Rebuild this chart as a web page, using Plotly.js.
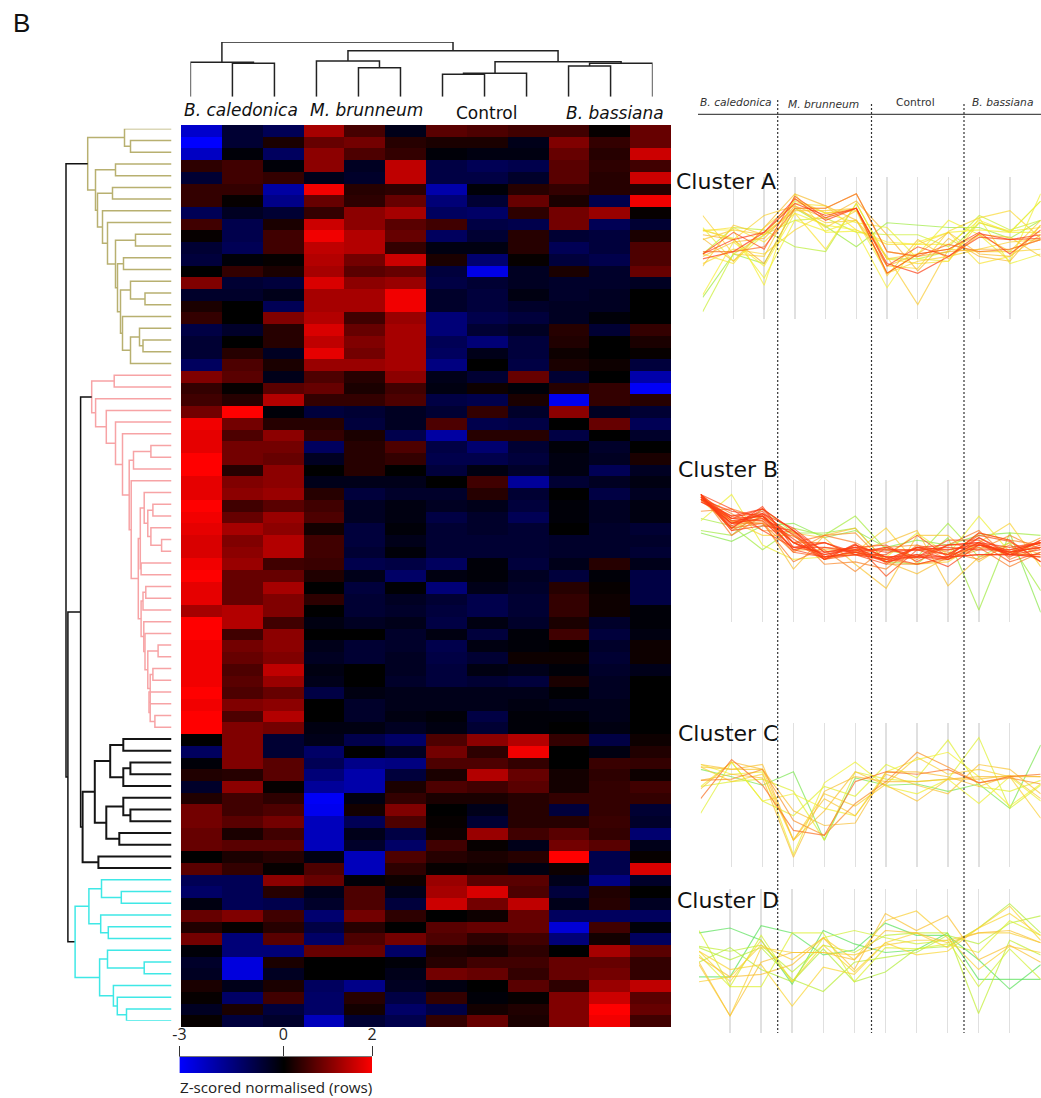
<!DOCTYPE html>
<html><head><meta charset="utf-8">
<script src="https://cdn.plot.ly/plotly-3.0.1.min.js"></script>
<style>html,body{margin:0;padding:0;background:#fff}#c{width:1041px;height:1098px}</style>
</head><body><div id="c"></div>
<script>
const groups=['B. caledonica','M. brunneum','Control','B. bassiana'];
const clusterNames=['Cluster A','Cluster B','Cluster C','Cluster D'];
const rowsA=[
[-2.4,-0.6,-1.0,1.3,0.55,-0.3,0.7,0.6,0.5,0.5,0.05,0.8],
[-3,-0.6,0.2,0.8,0.9,0.3,0.2,0.2,-0.3,1.0,0.4,0.8],
[-2.3,-0.1,-1.1,1.1,0.6,0.4,-0.1,-0.2,-0.2,0.8,0.3,1.6],
[0.35,0.5,-0.1,1.1,-0.4,1.5,-0.8,-1.0,-0.9,0.7,0.35,0.5],
[-0.6,0.5,0.4,-0.3,-0.5,1.5,-0.8,-0.8,-0.5,0.7,0.3,1.6],
[0.4,0.4,-1.9,1.9,0.3,0.35,-2.0,-0.1,0.3,0.4,0.3,0.3],
[0.4,0.05,-1.6,0.8,0.35,0.8,-1.4,-0.6,0.8,0.2,-0.9,1.9],
[-1.0,-0.4,-0.6,0.4,1.1,1.3,-1.1,-1.2,0.35,0.9,1.2,0.05],
[0.5,-0.9,0.2,1.6,1.1,0.7,0.5,-0.8,-0.9,0.9,-1,-0.6],
[0.05,-0.9,0.5,1.9,1.4,0.8,-1.1,-0.6,0.3,-0.6,-0.7,0.2],
[-0.6,-1.0,0.5,1.5,1.4,0.4,-0.2,-0.2,0.3,-1.0,-0.7,0.6],
[-0.7,-0.1,0.05,1.4,0.9,1.6,0.2,-1.3,0.05,-0.7,-0.9,0.6],
[0.0,0.4,0.2,1.3,0.7,0.8,-0.7,-2.7,-0.4,0.2,-0.5,0.8],
[1.0,-0.6,-0.7,1.7,1.1,1.2,-0.8,-0.6,-0.4,-0.5,-0.5,-0.4],
[-0.5,-0.5,-0.3,1.3,1.3,1.9,-0.5,-0.7,-0.2,-0.5,-0.4,0.0],
[0.2,0.0,-1.0,1.3,1.3,1.9,-0.5,-0.7,-0.5,-0.4,-0.4,0.0],
[0.4,0.0,1.0,1.4,0.5,1.2,-1.4,-0.9,-0.7,-0.4,-0.1,0.0],
[-0.8,-0.5,0.3,1.7,0.8,1.3,-1.4,-0.6,-0.4,0.3,-0.6,0.4],
[-0.6,0.0,0.3,1.5,1.0,1.3,-1.0,-1.4,-0.7,0.25,0.0,0.2],
[-0.6,0.3,-0.4,1.8,0.9,1.3,-1.1,-0.3,-0.7,0.1,0.0,0.05],
[-1.1,0.6,0.2,1.2,1.2,1.3,-1.5,0.0,-0.8,0.2,0.1,-0.7]];
const rowsB=[
[1.0,0.7,-0.3,0.6,0.3,1.1,-0.3,-0.6,0.8,-0.6,0.0,-2.0],
[0.4,0.05,0.7,0.8,0.2,0.5,-0.2,0.1,-0.1,0.3,0.4,-2.9],
[0.5,0.3,1.4,0.4,0.4,0.6,-0.8,-0.9,0.2,-2.8,0.4,0.3],
[0.9,2.0,-0.1,-0.7,-0.6,-0.4,-0.6,0.4,-0.5,1.1,-0.4,-0.6],
[1.9,0.9,0.3,0.3,-0.7,-0.4,0.6,-0.9,-0.8,0.0,0.8,-1.0],
[1.8,0.6,1.1,0.4,0.2,-0.9,-1.9,0.3,0.3,-0.8,0.0,-0.5],
[1.8,0.9,0.9,-1.1,0.3,0.6,-0.8,-1.3,-0.6,-0.1,-0.5,0.0],
[2.0,0.9,0.8,-0.4,0.3,0.4,-0.9,-0.9,-0.7,-0.2,-0.4,0.2],
[2.0,0.3,1.1,0.0,0.3,0.0,-0.7,-0.2,-0.5,-0.2,-1.0,-0.4],
[1.8,1.0,1.1,-0.3,-0.3,-0.3,0.0,0.5,-1.8,-0.6,-0.4,-0.2],
[1.8,1.1,1.2,0.3,-0.7,-0.5,-0.5,0.3,-0.6,0.0,-0.8,-0.4],
[2.0,0.5,0.7,0.5,-0.4,-0.2,-0.4,-0.3,-0.7,-0.1,-0.4,-0.2],
[1.9,0.8,1.2,0.6,-0.4,-0.2,-0.8,-0.5,-1.0,-0.1,-0.4,-0.2],
[1.8,1.3,1.1,0.15,-0.7,-0.1,-0.6,-0.5,-0.6,0.0,-0.5,-0.6],
[1.7,1.0,1.4,0.5,-0.7,-0.3,-0.6,-0.6,-0.6,-0.5,-0.5,-0.5],
[1.7,1.1,1.4,0.5,-0.6,-0.1,-0.6,-0.6,-0.6,-0.5,-0.5,-0.6],
[1.9,1.2,0.5,0.45,-0.9,-0.8,-1.1,-0.1,-0.7,-0.3,0.3,-0.3],
[2.0,0.8,0.8,0.25,-0.3,-1.2,-0.2,-0.1,-0.4,-0.7,-0.1,-0.8],
[1.8,0.8,1.3,0.0,-0.7,-0.05,-1.4,-0.3,-0.5,0.3,0.05,-0.8],
[1.8,0.8,1.0,0.35,-0.6,-0.4,-0.6,-0.9,-0.6,0.4,0.1,-0.8],
[1.3,1.4,1.0,0.0,-0.6,-0.5,-0.7,-0.9,-0.6,0.4,0.1,-0.1],
[2.0,1.4,0.5,-0.2,-0.4,-0.3,-0.8,-0.2,-0.5,0.2,-0.5,-0.1],
[2.0,0.5,1.1,0.0,0.0,-0.5,-0.2,-0.7,-0.1,0.5,-0.7,-0.2],
[1.9,0.9,1.1,-0.3,-0.6,-0.5,-0.9,-0.2,-0.1,0.0,-0.5,0.1],
[1.9,0.8,1.0,-0.4,-0.6,-0.4,-0.8,-0.6,0.1,0.1,-0.6,0.1],
[1.9,0.6,1.5,-0.2,0.0,-0.4,-0.7,-0.2,-0.3,-0.1,-0.5,-0.3],
[1.9,0.7,1.2,-0.3,0.0,-0.5,-0.7,-0.6,-0.7,0.2,-0.4,0.0],
[2.0,0.6,0.8,-0.8,-0.2,-0.3,-0.3,-0.3,-0.3,-0.05,-0.4,0.0],
[1.9,1.0,1.1,0.0,-0.5,-0.3,-0.3,-0.3,-0.2,-0.3,-0.3,0.0],
[2.0,0.6,1.4,0.0,-0.5,-0.2,-0.1,-0.8,-0.1,-0.1,-0.3,0.0],
[2.0,1.0,0.9,-0.2,-0.2,-0.4,-0.2,-0.6,-0.1,0.0,-0.2,0.0]];
const rowsC=[
[0.0,1.0,-0.6,-0.3,-0.9,-1.2,0.6,1.1,1.4,0.4,-0.8,0.1],
[-1.1,1.0,-0.6,-1.2,0.0,-0.4,0.9,0.35,1.9,0.0,-0.2,0.25],
[-0.1,1.0,0.7,-1.0,-1.6,-1.5,0.6,0.6,0.4,0.0,0.45,0.4],
[0.25,0.3,0.7,-1.4,-2.0,-0.7,0.2,1.4,0.8,0.15,0.35,0.1],
[-0.5,1.1,0.05,-1.8,-2.0,0.2,0.6,0.5,0.7,0.15,0.4,0.5],
[0.25,0.5,0.35,-2.9,-0.2,0.4,0.2,0.2,0.3,0.4,0.4,0.4],
[0.9,0.5,0.6,-2.8,0.15,1.0,0.0,-0.3,0.3,-0.7,0.4,-0.6],
[0.9,0.7,0.9,-2.2,-1.0,0.6,0.05,-0.6,0.3,0.3,0.45,-0.5],
[0.8,0.2,0.5,-2.2,-0.3,-0.8,0.1,1.2,0.5,0.7,0.4,-1.3],
[0.8,0.7,0.7,-2.2,-0.5,-1.2,0.5,0.05,-0.3,0.9,0.7,-0.3],
[0.0,0.2,0.3,-0.2,-2.2,0.6,0.3,0.2,0.3,2.0,-0.9,0.05],
[0.7,0.4,0.05,0.6,-2.2,0.35,0.05,0.1,-0.2,0.1,-0.9,1.7]];
const rowsD=[
[-1.0,-1.0,1.1,0.8,-0.1,0.1,1.2,0.7,0.7,-0.3,-1.5,-0.5],
[-1.2,-1.0,0.3,-0.3,0.6,-0.3,1.3,1.7,0.6,-0.7,0.25,0.0],
[-0.2,-1.0,-0.9,-0.5,0.6,-0.7,1.6,0.9,1.5,-0.3,0.3,-0.4],
[0.8,1.0,0.5,-1.3,0.9,0.35,0.0,0.1,0.8,-1.1,-1.1,-1.1],
[0.25,0.05,0.3,-0.8,0.3,0.0,0.7,0.8,0.8,-2.5,0.5,-0.1],
[0.9,-1.4,0.7,-1.2,0.6,0.9,0.6,0.35,0.5,-1.4,0.15,-1.1],
[-0.1,-1.4,-1.4,0.8,0.8,-1.2,0.2,0.15,0.35,0.0,1.3,0.7],
[-0.5,-2.6,0.2,0.0,0.0,-0.1,0.3,0.5,0.5,0.8,0.8,0.4],
[-0.4,-2.6,-0.4,0.0,0.0,-0.3,0.9,0.8,0.4,0.8,0.9,0.4],
[0.2,-0.3,0.2,-1.1,-1.6,-0.4,-0.2,0.0,0.7,0.35,1.2,1.5],
[0.05,-1.2,0.5,-1.2,0.3,-0.8,0.4,-0.1,0.05,1.0,1.6,0.7],
[-0.4,0.2,-0.7,-1.2,0.15,-1.2,-0.8,0.15,0.25,1.0,2.0,0.8],
[0.05,-0.7,-0.5,-2.2,-0.6,-0.9,0.4,0.8,0.2,1.0,1.9,0.5]];

// Dendrograms: [merge height, child, child]; a number is a leaf index.
const treeTop=[54.7,[34.4,0,[33.4,1,2]],[46,[35.7,3,[29,4,5]],[35,[23.4,[22.4,6,7],8],[33.4,[30.7,9,10],11]]]];
const a1=[41,[32,17,[28.5,18,19]],20];
const a2=[51,[41,13,[26.5,14,15]],[49,16,a1]];
const a3=[56,[36,9,10],[54,[48,11,12],a2]];
const a4=[69,7,[64,8,a3]];
const treeA=[83.8,[47,0,[41,1,2]],[76,[56,3,4],[74,[59,5,6],a4]]];
const b1=[31.2,[27.3,31,[23.7,[18.6,32,33],[20.6,34,[9.9,35,36]]]],[30.4,37,38]];
const b2=[23.7,[13.4,44,45],[21.3,[18.6,46,47],[22.5,48,[21.3,49,[16.6,50,51]]]]];
const b3=[30.4,[28.5,[25.7,39,40],41],[27.7,42,[26.5,43,b2]]];
const b4=[42.3,[38,[20.6,27,28],29],[40.3,30,[33.2,b1,b3]]];
const treeB=[79.8,[57.3,21,22],[75.9,23,[65.2,24,[56,25,[49,26,b4]]]]];
const treeC=[88.9,[76.7,[61.3,[48.2,52,53],[48.2,[41.1,54,55],56]],[65.2,[48.2,57,[41.1,58,59]],[52.2,60,61]]],[73.1,62,63]];
const treeD=[96.4,[82.6,[70,64,[50.2,65,66]],[70.8,67,[63.2,68,69]]],[71.9,[64,70,[27.3,71,72]],[58.1,73,[54.2,74,[45,75,76]]]]];
const clusterColors=['#b8b070','#f7a3a5','#151515','#3fe8e6'];
const treeLeft=[105.5,{tree:treeA,color:clusterColors[0]},[103.6,[90.9,{tree:treeB,color:clusterColors[1]},{tree:treeC,color:clusterColors[2]}],{tree:treeD,color:clusterColors[3]}]];

const W=1041,H=1098;
const clusters=[rowsA,rowsB,rowsC,rowsD];
const Z=[].concat(...clusters);
const fx=(a,b)=>[a/W,b/W];
const fy=(t,b)=>[1-b/H,1-t/H];
const scale=[[0,'#0000ff'],[0.6,'#000000'],[1,'#ff0000']];

function walk(node,color,segs){
  if(typeof node==='number')return{p:node,h:0};
  if(!Array.isArray(node))return walk(node.tree,node.color,segs);
  const [h,a,b]=node;
  const A=walk(a,color,segs),B=walk(b,color,segs);
  const s=segs[color]=segs[color]||[];
  s.push([A.h,A.p],[h,A.p],[h,B.p],[B.h,B.p],null);
  return{p:(A.p+B.p)/2,h};
}
const traces=[];
traces.push({type:'heatmap',z:Z,zmin:-3,zmax:2,colorscale:scale,showscale:false,xaxis:'x',yaxis:'y',hoverinfo:'skip'});

const segT={},segL={};
walk(treeTop,'#222222',segT);
walk(treeLeft,'#111111',segL);
for(const c in segT){const s=segT[c];traces.push({type:'scatter',mode:'lines',xaxis:'x2',yaxis:'y2',cliponaxis:false,
  x:s.map(d=>d?d[1]:null),y:s.map(d=>d?d[0]:null),line:{color:c,width:1.5},hoverinfo:'skip'});}
for(const c in segL){const s=segL[c];traces.push({type:'scatter',mode:'lines',xaxis:'x3',yaxis:'y3',cliponaxis:false,
  x:s.map(d=>d?d[0]:null),y:s.map(d=>d?d[1]:null),line:{color:c,width:c==='#151515'?2:1.5},hoverinfo:'skip'});}

// Profiles: same rows, coloured by how well each follows its cluster centroid
function mix(a,b,t){return a.map((v,i)=>Math.round(v+(b[i]-v)*t));}
const stops=[[0.2,[90,225,90]],[0.45,[190,238,50]],[0.62,[250,240,50]],[0.86,[248,175,50]],[0.94,[252,60,20]]];
function rColor(r){
  if(r<=stops[0][0])return stops[0][1];
  for(let i=1;i<stops.length;i++)if(r<=stops[i][0])return mix(stops[i-1][1],stops[i][1],(r-stops[i-1][0])/(stops[i][0]-stops[i-1][0]));
  return stops[stops.length-1][1];
}
function corr(a,b){const n=a.length,ma=a.reduce((s,v)=>s+v,0)/n,mb=b.reduce((s,v)=>s+v,0)/n;let x=0,y=0,z=0;
  for(let i=0;i<n;i++){x+=(a[i]-ma)*(b[i]-mb);y+=(a[i]-ma)**2;z+=(b[i]-mb)**2;}return x/Math.sqrt(y*z);}
const colIdx=Z[0].map((_,i)=>i);
clusters.forEach((rows,k)=>{
  const cen=colIdx.map(i=>rows.reduce((s,r)=>s+r[i],0)/rows.length);
  const ordered=rows.map(r=>({r,c:corr(r,cen)})).sort((a,b)=>a.c-b.c);
  ordered.forEach(o=>{
    const col=rColor(o.c);
    traces.push({type:'scatter',mode:'lines',xaxis:'x'+(4+k),yaxis:'y'+(4+k),x:colIdx,y:o.r,
      line:{color:`rgba(${col[0]},${col[1]},${col[2]},0.7)`,width:1.15},hoverinfo:'skip'});
  });
});

// Colour key
const keyValues=[-3,0,2];
const keyPos=[0,0.54,1];
traces.push({type:'heatmap',x:keyPos,y:[0,1],z:[keyValues,keyValues],zmin:-3,zmax:2,colorscale:scale,showscale:false,zsmooth:'best',xaxis:'x8',yaxis:'y8',hoverinfo:'skip'});

const off={showgrid:false,zeroline:false,showticklabels:false,ticks:'',showline:false,fixedrange:true};
const panelY=[[177,319],[480,622],[723,867],[889,1033]];
const panelX=[[702.7,1040.7],[700.7,1040.7],[700.7,1040.7],[699,1040.7]];
const layout={width:W,height:H,margin:{l:0,r:0,t:0,b:0},paper_bgcolor:'#fff',plot_bgcolor:'rgba(0,0,0,0)',showlegend:false,
  xaxis:{...off,domain:fx(181,671),range:[-0.5,11.5]},
  yaxis:{...off,domain:fy(125,1027),range:[76.5,-0.5]},
  xaxis2:{...off,domain:fx(190.4,652.6),range:[0,11],anchor:'y2'},
  yaxis2:{...off,domain:fy(42,96.7),range:[0,54.7],anchor:'x2'},
  xaxis3:{...off,domain:fx(61.5,171.5),range:[110,0],anchor:'y3'},
  yaxis3:{...off,domain:fy(128.7,1020.7),range:[76,0],anchor:'x3'},
  xaxis8:{...off,domain:fx(179.4,372),range:[0,1],anchor:'y8',side:'top',showticklabels:true,ticks:'outside',ticklen:10,tickcolor:'#333',tickwidth:1,
    tickmode:'array',tickvals:keyPos,ticktext:keyValues.map(String),tickfont:{family:'Open Sans',size:16,color:'#222'},showline:true,linecolor:'#777',linewidth:1},
  yaxis8:{...off,domain:fy(1057,1073),range:[0,1],anchor:'x8'},
  shapes:[],annotations:[]};
panelY.forEach((py,k)=>{
  const n=4+k;
  layout['xaxis'+n]={...off,domain:fx(panelX[k][0],panelX[k][1]),range:[0,11],anchor:'y'+n,showgrid:true,gridcolor:'#e0e0e0',gridwidth:1.4,tickmode:'linear',tick0:0,dtick:1};
  layout['yaxis'+n]={...off,domain:fy(py[0],py[1]),range:[-3.3,2.6],anchor:'x'+n};
});
function lab(text,x,y,size,family,style,color,anchor){
  layout.annotations.push({text,xref:'paper',yref:'paper',x:x/W,y:1-y/H,showarrow:false,xanchor:anchor||'center',yanchor:'middle',
    font:{family,size,color:color||'#111',style:style||'normal'}});
}
const sans='DejaVu Sans';
lab('B',21,23,26,'Liberation Sans');
lab('<i>'+groups[0]+'</i>',240.5,110,17,sans);
lab('<i>'+groups[1]+'</i>',366,110,17,sans);
lab(groups[2],486,113,17,sans);
lab('<i>'+groups[3]+'</i>',615,113,17,sans);
lab('<i>'+groups[0]+'</i>',736,103,10.7,sans,'normal','#333');
lab('<i>'+groups[1]+'</i>',823,104,10.7,sans,'normal','#333');
lab(groups[2],915,103,10.7,sans,'normal','#333');
lab('<i>'+groups[3]+'</i>',1002,103,10.7,sans,'normal','#333');
lab(clusterNames[0],726,181,22,sans);
lab(clusterNames[1],728,470,22,sans);
lab(clusterNames[2],728,733,22,sans);
lab(clusterNames[3],727.5,900,22,sans);
lab('Z-scored normalised (rows)',276,1087,15.2,'Open Sans','normal','#222');
layout.shapes.push({type:'line',xref:'paper',yref:'paper',x0:698/W,x1:1,y0:1-114.3/H,y1:1-114.3/H,line:{color:'#222',width:1}});
[[777.7,100],[871.5,104],[964,104]].forEach(d=>layout.shapes.push({type:'line',xref:'paper',yref:'paper',x0:d[0]/W,x1:d[0]/W,y0:1-d[1]/H,y1:1-1033/H,line:{color:'#333',width:1.2,dash:'2px,2px'}}));
Plotly.newPlot('c',traces,layout,{staticPlot:true,displayModeBar:false});
</script></body></html>
